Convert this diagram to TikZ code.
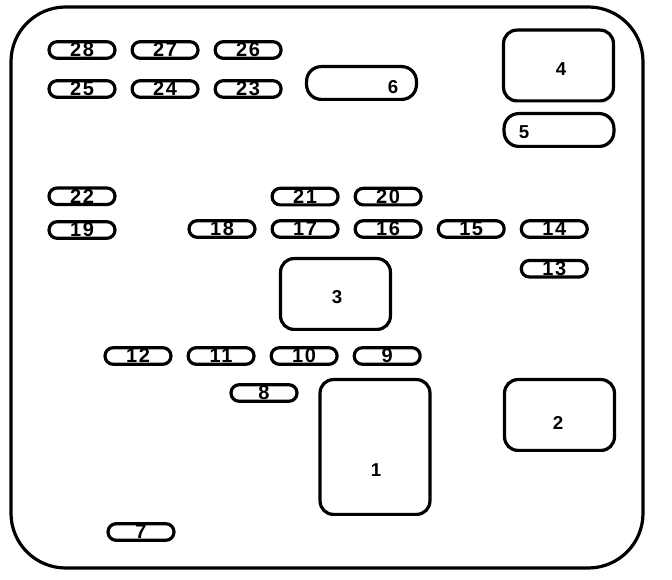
\documentclass[tikz,border=0pt]{standalone}
\usepackage{fontspec}
\setmainfont{Liberation Sans}
\usepackage{tikz}
\usetikzlibrary{positioning, calc}
\newfontfamily\fusefont[LetterSpace=8]{Liberation Sans}
\tikzset{
  fuse/.style={rectangle, draw=black, fill=white,
    minimum width=49.4pt, minimum height=12.4pt, inner sep=0pt,
    rounded corners=6pt, line width=2.4pt,
    font=\fusefont\bfseries\fontsize{15}{15}\selectfont},
  relay/.style={rectangle, draw=black, fill=white,
    minimum width=82.4pt, minimum height=53.1pt, inner sep=0pt,
    rounded corners=10pt, line width=2.4pt},
  longrelay/.style={relay, minimum height=24.6pt, rounded corners=11pt},
  num/.style={inner sep=0pt, font=\bfseries\fontsize{14}{14}\selectfont},
  frame/.style={line width=2.4pt, rounded corners=41pt}
}

\begin{document}
\begin{tikzpicture}[x=0.75pt, y=-0.75pt, node distance=10.5pt]
  \useasboundingbox (0,0) rectangle (672,580);
  \draw[frame] (11,7) rectangle (643,568);

  % small fuses, top left
  \node[fuse] (f28) at (82,50) {28};
  \node[fuse, right=of f28] (f27) {27};
  \node[fuse, right=of f27] (f26) {26};
  \node[fuse] (f25) at (82,89) {25};
  \node[fuse, right=of f25] (f24) {24};
  \node[fuse, right=of f24] (f23) {23};

  % middle rows
  \node[fuse] (f19) at (82,230) {19};
  \node[fuse, above=10.5pt of f19] (f22) {22};
  \node[fuse] (f18) at (222,229) {18};
  \node[fuse, right=of f18] (f17) {17};
  \node[fuse, right=of f17] (f16) {16};
  \node[fuse, right=of f16] (f15) {15};
  \node[fuse, right=of f15] (f14) {14};
  \node[fuse, above=9.5pt of f17] (f21) {21};
  \node[fuse, right=of f21] (f20) {20};
  \node[fuse, below=15pt of f14] (f13) {13};

  % lower rows
  \node[fuse] (f12) at (138,356) {12};
  \node[fuse, right=of f12] (f11) {11};
  \node[fuse, right=of f11] (f10) {10};
  \node[fuse, right=of f10] (f9) {9};
  \node[fuse] (f8) at (264,393) {8};
  \node[fuse] (f7) at (141,532) {7};

  % relays
  \node[relay, minimum height=101.1pt] (r1) at (375,447) {};
  \node[num] (l1) at ($(r1)+(1,23)$) {1};
  \node[relay] (r2) at (559.5,415) {};
  \node[num] (l2) at ($(r2)+(-1.5,8)$) {2};
  \node[relay] (r3) at (335.5,294) {};
  \node[num] (l3) at ($(r3)+(1.5,3)$) {3};
  \node[relay] (r4) at (558.5,65.5) {};
  \node[num] (l4) at ($(r4)+(2.5,3.5)$) {4};
  \node[longrelay] (r5) at (559,130) {};
  \node[num] (l5) at ($(r5)+(-35,2)$) {5};
  \node[longrelay] (r6) at (361.5,83) {};
  \node[num] (l6) at ($(r6)+(31.5,4)$) {6};
\end{tikzpicture}
\end{document}
